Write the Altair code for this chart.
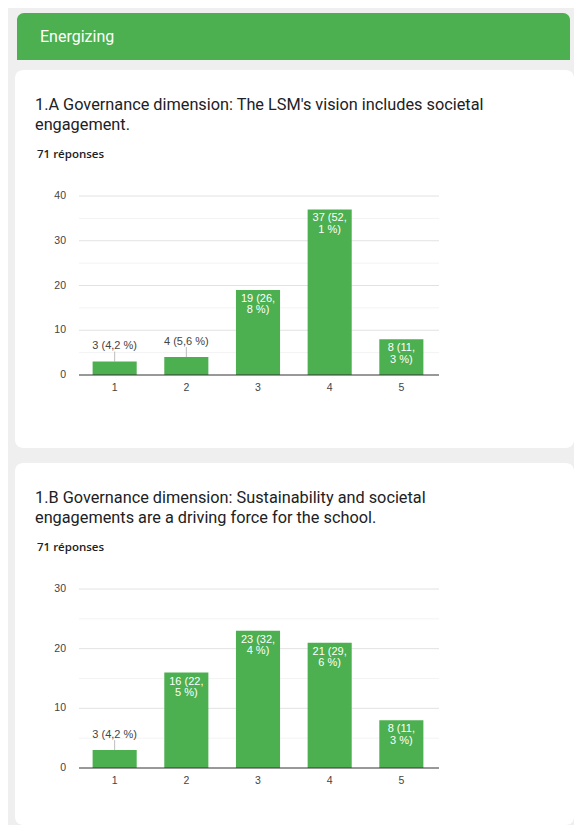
import altair as alt
import pandas as pd

# ---------------- data ----------------
section_name = "Energizing"
responses_text = "71 réponses"
categories = ["1", "2", "3", "4", "5"]

title_a = ["1.A Governance dimension: The LSM's vision includes societal",
           "engagement."]
counts_a = [3, 4, 19, 37, 8]
pct_a = ["4,2", "5,6", "26,8", "52,1", "11,3"]
ticks_a = [0, 10, 20, 30, 40]
minor_a = [5, 15, 25, 35]

title_b = ["1.B Governance dimension: Sustainability and societal",
           "engagements are a driving force for the school."]
counts_b = [3, 16, 23, 21, 8]
pct_b = ["4,2", "22,5", "32,4", "29,6", "11,3"]
ticks_b = [0, 10, 20, 30]
minor_b = [5, 15, 25]

# ---------------- styling ----------------
GREEN = "#4caf50"
PAGE_BG = "#efefef"
TEXT = "#202124"
AXIS_TXT = "#444444"
CHART_FONT = "Liberation Sans"
CARD_W = 559
X_RANGE = [64, 422]
Y_RANGE = [305, 126]


def card(title_lines, counts, pcts, ticks, minor, height):
    df = pd.DataFrame({"cat": categories, "n": counts, "pct": pcts})
    inside = df[df["n"] >= 8].copy()
    inside["lab"] = [f"{n} ({p.split(',')[0]},\n{p.split(',')[1]} %)"
                     for n, p in zip(inside["n"], inside["pct"])]
    outside = df[df["n"] < 8].copy()
    outside["lab"] = [f"{n} ({p} %)" for n, p in zip(outside["n"], outside["pct"])]

    ymax = ticks[-1]
    xs = alt.Scale(domain=categories, range=X_RANGE, paddingInner=0.385, paddingOuter=0.19)
    ys = alt.Scale(domain=[0, ymax], range=Y_RANGE)
    X = alt.X("cat:N", scale=xs, axis=None, sort=categories)

    major_df = pd.DataFrame({"v": ticks[1:]})
    minor_df = pd.DataFrame({"v": minor})
    base_df = pd.DataFrame({"v": [0]})
    tick_df = pd.DataFrame({"v": ticks})
    cat_df = pd.DataFrame({"cat": categories})
    head_df = pd.DataFrame({"t": ["\n".join(title_lines)], "r": [responses_text]})

    title = alt.Chart(head_df).mark_text(
        align="left", baseline="middle", font="Roboto", fontSize=16.3,
        color=TEXT, lineBreak="\n", lineHeight=20.5
    ).encode(x=alt.value(20), y=alt.value(34.5), text="t:N")
    resp = alt.Chart(head_df).mark_text(
        align="left", baseline="middle", font="Open Sans", fontSize=11.5,
        fontWeight=600, color=TEXT
    ).encode(x=alt.value(22), y=alt.value(85), text="r:N")

    minor_l = alt.Chart(minor_df).mark_rule(color="#f3f3f3", strokeWidth=1).encode(
        y=alt.Y("v:Q", scale=ys, axis=None), x=alt.value(X_RANGE[0]), x2=alt.value(X_RANGE[1] + 2))
    major_l = alt.Chart(major_df).mark_rule(color="#e2e2e2", strokeWidth=1).encode(
        y=alt.Y("v:Q", scale=ys, axis=None), x=alt.value(X_RANGE[0]), x2=alt.value(X_RANGE[1] + 2))
    ylabels = alt.Chart(tick_df).mark_text(
        align="right", baseline="middle", font=CHART_FONT, fontSize=10.5, color=AXIS_TXT
    ).encode(y=alt.Y("v:Q", scale=ys, axis=None), x=alt.value(51), text="v:Q")
    xlabels = alt.Chart(cat_df).mark_text(
        align="center", baseline="middle", font=CHART_FONT, fontSize=10.5, color=AXIS_TXT
    ).encode(x=X, y=alt.value(318), text="cat:N")

    bars = alt.Chart(df).mark_bar(color=GREEN).encode(
        x=X, y=alt.Y("n:Q", scale=ys, axis=None))
    baseline = alt.Chart(base_df).mark_rule(color="#333333", strokeWidth=1).encode(
        y=alt.Y("v:Q", scale=ys, axis=None), x=alt.value(X_RANGE[0]), x2=alt.value(X_RANGE[1] + 2))

    lab_in = alt.Chart(inside).mark_text(
        align="center", baseline="top", dy=3, font=CHART_FONT, fontSize=11,
        color="white", lineBreak="\n", lineHeight=11.5
    ).encode(x=X, y=alt.Y("n:Q", scale=ys, axis=None), text="lab:N")
    leader = alt.Chart(outside).mark_rule(color="#bdbdbd", strokeWidth=1, y2Offset=-10).encode(
        x=X, y=alt.Y("n:Q", scale=ys, axis=None), y2="n:Q")
    lab_out = alt.Chart(outside).mark_text(
        align="center", baseline="middle", dy=-15.5, font=CHART_FONT, fontSize=11,
        color=AXIS_TXT
    ).encode(x=X, y=alt.Y("n:Q", scale=ys, axis=None), text="lab:N")

    return alt.layer(
        title, resp, minor_l, major_l, ylabels, xlabels, leader, bars, baseline, lab_in, lab_out
    ).properties(
        width=CARD_W, height=height,
        view=alt.ViewBackground(fill="white", cornerRadius=8, strokeWidth=0)
    )


header_df = pd.DataFrame({"t": [section_name]})
header = alt.layer(
    alt.Chart(header_df).mark_rect(
        color=GREEN, cornerRadiusTopLeft=7, cornerRadiusTopRight=7
    ).encode(x=alt.value(2), x2=alt.value(555), y=alt.value(0), y2=alt.value(47)),
    alt.Chart(header_df).mark_text(
        align="left", baseline="middle", font="Roboto", fontSize=16, color="white"
    ).encode(x=alt.value(25), y=alt.value(23.5), text="t:N"),
).properties(width=555, height=47, view=alt.ViewBackground(strokeWidth=0))

card_a = card(title_a, counts_a, pct_a, ticks_a, minor_a, 378)
card_b = card(title_b, counts_b, pct_b, ticks_b, minor_b, 362)

chart = alt.vconcat(
    header,
    alt.vconcat(card_a, card_b, spacing=15),
    spacing=10,
).properties(
    background=PAGE_BG,
    padding={"left": 7, "top": 5, "right": 0, "bottom": 0},
).configure_view(strokeWidth=0)

chart.save("out.html", embed_options={"renderer": "svg", "actions": False})
